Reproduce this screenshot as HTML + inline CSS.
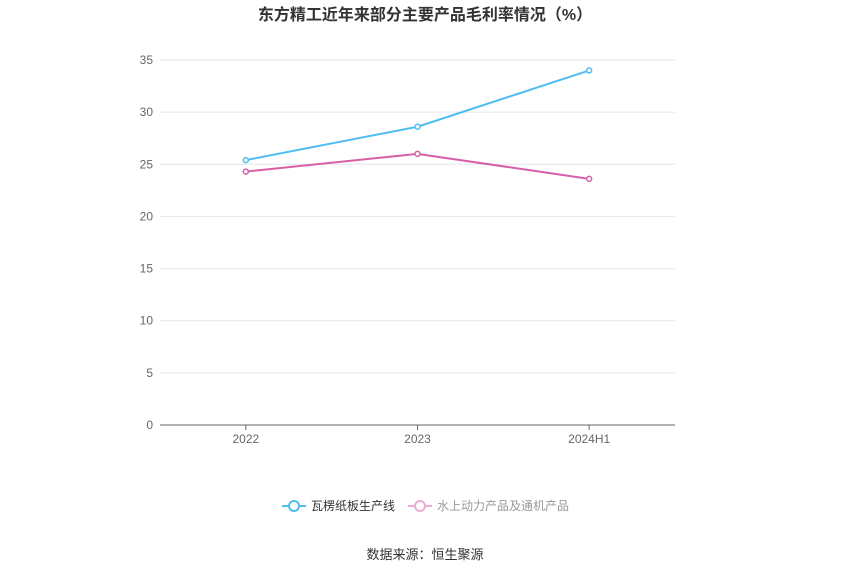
<!DOCTYPE html>
<html><head><meta charset="utf-8">
<style>
body{margin:0;background:#fff;font-family:"Liberation Sans","Noto Sans CJK SC",sans-serif;}
</style></head>
<body>
<svg id="chart" width="850" height="575" xmlns="http://www.w3.org/2000/svg" font-family="Liberation Sans, Noto Sans CJK SC, sans-serif">
<text x="425" y="20" text-anchor="middle" font-size="16" font-weight="bold" fill="#333">东方精工近年来部分主要产品毛利率情况（%）</text>
<g id="grid"></g>
<g id="marks"></g>
<g>
 <g>
  <line x1="282" y1="506" x2="306" y2="506" stroke="#4fbdf0" stroke-width="2"/>
  <circle cx="294" cy="506" r="5" fill="#fff" stroke="#4fbdf0" stroke-width="2"/>
  <text x="311" y="510" font-size="12" fill="#333">瓦楞纸板生产线</text>
 </g>
 <g>
  <line x1="408" y1="506" x2="432" y2="506" stroke="#eeaad0" stroke-width="2"/>
  <circle cx="420" cy="506" r="5" fill="#fff" stroke="#eeaad0" stroke-width="2"/>
  <text x="437" y="510" font-size="12" fill="#999">水上动力产品及通机产品</text>
 </g>
</g>
<text x="425" y="559" text-anchor="middle" font-size="13" fill="#333">数据来源：恒生聚源</text>
</svg>
<script>
const categories=["2022","2023","2024H1"];
const seriesA=[25.4,28.6,34.0];
const seriesB=[24.3,26.0,23.6];
const yTicks=[0,5,10,15,20,25,30,35];
const NS="http://www.w3.org/2000/svg";
const x0=160,x1=675,y0=425,y1=60,yMax=35;
const band=(x1-x0)/categories.length;
function xs(i){return x0+band*(i+0.5);}
function ys(v){return y0-(v/yMax)*(y0-y1);}
function mk(t,a,p){const e=document.createElementNS(NS,t);for(const k in a)e.setAttribute(k,a[k]);p.appendChild(e);return e;}
const grid=document.getElementById('grid');
yTicks.forEach(v=>{
 const l=mk('line',{x1:x0,x2:x1,y1:ys(v),y2:ys(v),stroke:v===0?'#666':'#e3e6ef','stroke-width':1},grid);
 
 
 const t=mk('text',{x:153,y:ys(v)+4,'text-anchor':'end','font-size':12,fill:'#666'},grid);
 t.textContent=v;
 
 
});
categories.forEach((c,i)=>{
 const tk=mk('line',{x1:xs(i),x2:xs(i),y1:y0,y2:y0+5,stroke:'#666'},grid);
 
 
 const t=mk('text',{x:xs(i),y:y0+18,'text-anchor':'middle','font-size':12,fill:'#666'},grid);
 t.textContent=c;
 
 
});
const marks=document.getElementById('marks');
function draw(data,color,name){
 const p=mk('polyline',{points:data.map((v,i)=>xs(i)+','+ys(v)).join(' '),fill:'none',stroke:color,'stroke-width':2},marks);
 
 
 data.forEach((v,i)=>{
  const c=mk('circle',{cx:xs(i),cy:ys(v),r:2.5,fill:'#fff',stroke:color,'stroke-width':1.5},marks);
  
  
 });
}
draw(seriesA,'#4fbdf0','corrugated');
draw(seriesB,'#d75fa8','hydro');
</script>
</body></html>
